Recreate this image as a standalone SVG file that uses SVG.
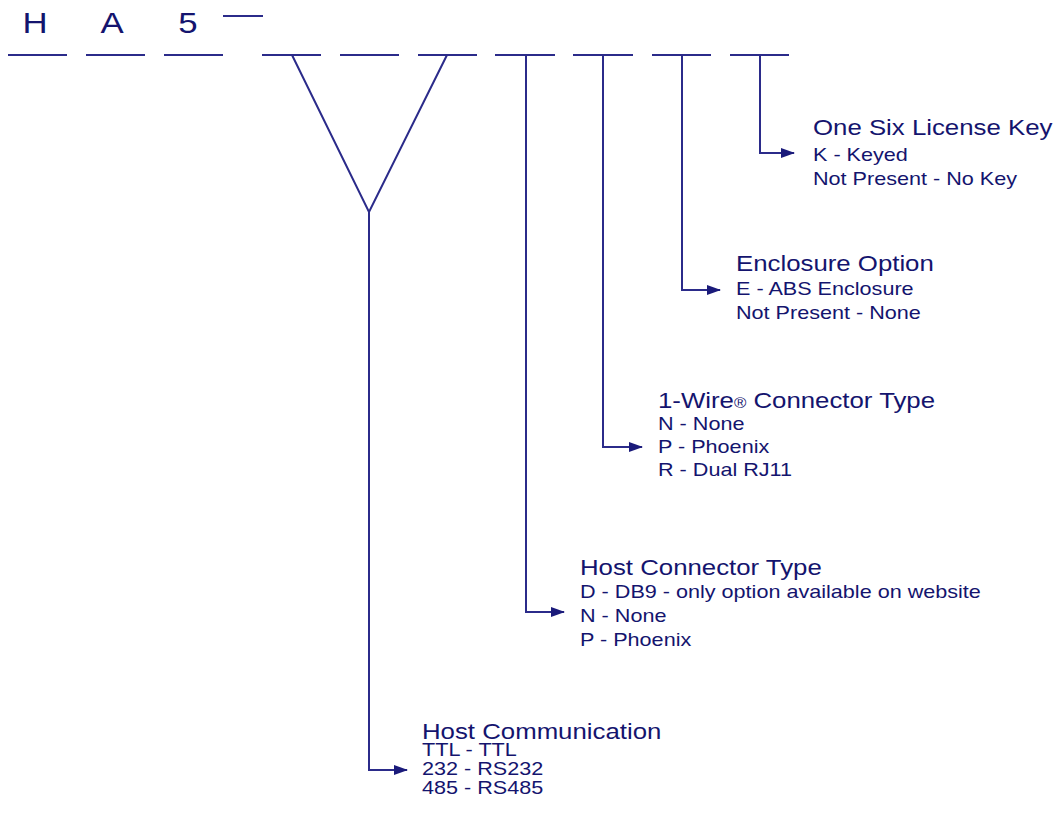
<svg xmlns="http://www.w3.org/2000/svg" width="1062" height="820" viewBox="0 0 1062 820">
<style>
.ln{stroke:#2b2b8a;stroke-width:2;fill:none}
.big{font-family:"Liberation Sans",Arial,sans-serif;font-size:29px;fill:#14146e;text-anchor:middle}
.ttl{font-family:"Liberation Sans",Arial,sans-serif;font-size:21.5px;fill:#14146e}
.opt{font-family:"Liberation Sans",Arial,sans-serif;font-size:18px;fill:#14146e}
</style>
<defs>
<marker id="ah" markerWidth="14" markerHeight="10" refX="13" refY="5" orient="auto" markerUnits="userSpaceOnUse">
<path d="M0,0 L14,5 L0,10 z" fill="#1a1a7a"/>
</marker>
</defs>
<rect width="1062" height="820" fill="#ffffff"/>
<g id="header">
<text class="big" transform="matrix(1.2 0 0 1 35 33)">H</text>
<text class="big" transform="matrix(1.2 0 0 1 112 33)">A</text>
<text class="big" transform="matrix(1.2 0 0 1 188 33)">5</text>
<line class="ln" x1="223" y1="16" x2="263" y2="16"/>
<g id="slots">
<line class="ln" x1="8" y1="55" x2="67" y2="55"/>
<line class="ln" x1="86" y1="55" x2="145" y2="55"/>
<line class="ln" x1="164" y1="55" x2="223" y2="55"/>
<line class="ln" x1="262" y1="55" x2="321" y2="55"/>
<line class="ln" x1="340" y1="55" x2="399" y2="55"/>
<line class="ln" x1="418" y1="55" x2="477" y2="55"/>
<line class="ln" x1="495" y1="55" x2="555" y2="55"/>
<line class="ln" x1="573" y1="55" x2="633" y2="55"/>
<line class="ln" x1="652" y1="55" x2="711" y2="55"/>
<line class="ln" x1="730" y1="55" x2="789" y2="55"/>
</g>
</g>
<g id="connectors">
<polyline class="ln" points="292,55 369,212 447,55"/>
<polyline class="ln" points="369,212 369,770 407,770" marker-end="url(#ah)"/>
<polyline class="ln" points="526,55 526,612 564,612" marker-end="url(#ah)"/>
<polyline class="ln" points="603,55 603,447 642,447" marker-end="url(#ah)"/>
<polyline class="ln" points="682,55 682,290 720,290" marker-end="url(#ah)"/>
<polyline class="ln" points="760,55 760,153 794,153" marker-end="url(#ah)"/>
</g>
<g id="license-key">
<text class="ttl" transform="matrix(1.2 0 0 1 813 135)">One Six License Key</text>
<text class="opt" transform="matrix(1.2 0 0 1 813 161)">K - Keyed</text>
<text class="opt" transform="matrix(1.2 0 0 1 813 185)">Not Present - No Key</text>
</g>
<g id="enclosure">
<text class="ttl" transform="matrix(1.2 0 0 1 736 271)">Enclosure Option</text>
<text class="opt" transform="matrix(1.2 0 0 1 736 295)">E - ABS Enclosure</text>
<text class="opt" transform="matrix(1.2 0 0 1 736 319)">Not Present - None</text>
</g>
<g id="onewire">
<text class="ttl" transform="matrix(1.2 0 0 1 658 408)">1-Wire<tspan font-size="14px">®</tspan> Connector Type</text>
<text class="opt" transform="matrix(1.2 0 0 1 658 430)">N - None</text>
<text class="opt" transform="matrix(1.2 0 0 1 658 453)">P - Phoenix</text>
<text class="opt" transform="matrix(1.2 0 0 1 658 476)">R - Dual RJ11</text>
</g>
<g id="host-connector">
<text class="ttl" transform="matrix(1.2 0 0 1 580 575)">Host Connector Type</text>
<text class="opt" transform="matrix(1.2 0 0 1 580 598)">D - DB9 - only option available on website</text>
<text class="opt" transform="matrix(1.2 0 0 1 580 622)">N - None</text>
<text class="opt" transform="matrix(1.2 0 0 1 580 646)">P - Phoenix</text>
</g>
<g id="host-communication">
<text class="ttl" transform="matrix(1.2 0 0 1 422 739)">Host Communication</text>
<text class="opt" transform="matrix(1.2 0 0 1 422 756)">TTL - TTL</text>
<text class="opt" transform="matrix(1.2 0 0 1 422 775)">232 - RS232</text>
<text class="opt" transform="matrix(1.2 0 0 1 422 794)">485 - RS485</text>
</g>
</svg>
